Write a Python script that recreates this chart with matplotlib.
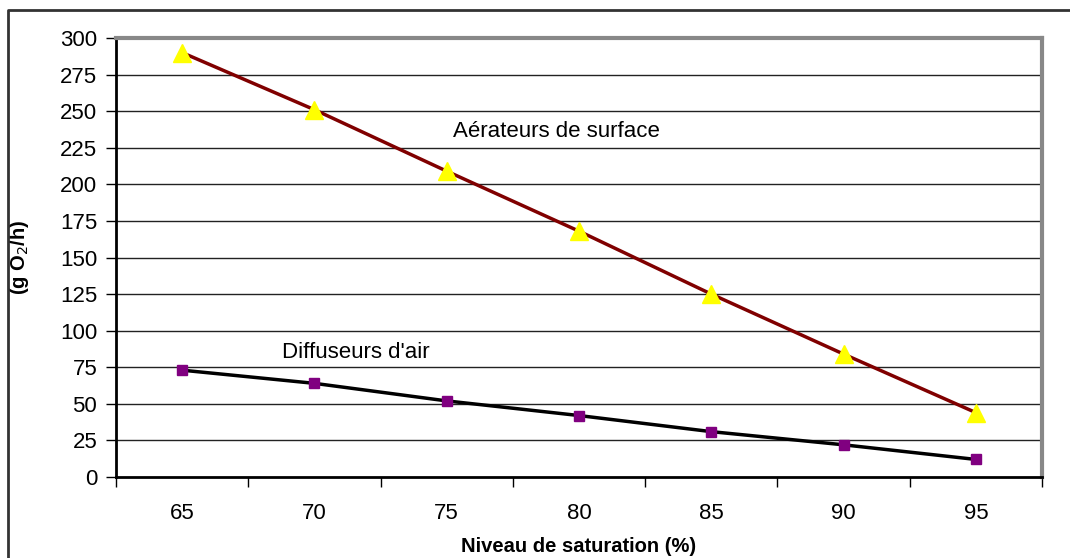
import matplotlib.pyplot as plt
from matplotlib.lines import Line2D

plt.rcParams['font.family'] = ['Liberation Sans', 'DejaVu Sans']

niveaux = [65, 70, 75, 80, 85, 90, 95]
aerateurs = [290, 251, 209, 168, 125, 84, 44]
diffuseurs = [73, 64, 52, 42, 31, 22, 12]
yticks = list(range(0, 301, 25))

fig = plt.figure(figsize=(10.7, 5.58), dpi=100)
ax = fig.add_axes([116 / 1070, 1 - 477 / 558, (1042 - 116) / 1070, (477 - 38) / 558])

x = list(range(len(niveaux)))
ax.plot(x, aerateurs, color='#800000', lw=2.5, zorder=3)
ax.plot(x, aerateurs, ls='none', marker='^', ms=13.5, color='#ffff00', zorder=4)
ax.plot(x, diffuseurs, color='black', lw=2.5, zorder=3)
ax.plot(x, diffuseurs, ls='none', marker='s', ms=7.5, color='#800080', zorder=4)

ax.set_xlim(-0.5, len(niveaux) - 0.5)
ax.set_ylim(0, 300)
ax.set_yticks(yticks)
ax.set_yticklabels([str(v) for v in yticks], fontsize=16)
ax.set_xticks(x)
ax.set_xticklabels([str(v) for v in niveaux], fontsize=16)
ax.tick_params(axis='x', length=0, pad=19)
ax.set_xticks([i - 0.5 for i in range(len(niveaux) + 1)], minor=True)
ax.tick_params(axis='x', which='minor', length=7, direction='out', width=1)
ax.tick_params(axis='y', length=7, direction='out', width=1, pad=6.5)

for v in yticks[1:-1]:
    ax.axhline(v, color='#222222', lw=1, zorder=1)

ax.spines['top'].set_color('#888888')
ax.spines['top'].set_linewidth(3)
ax.spines['right'].set_color('#888888')
ax.spines['right'].set_linewidth(3)
ax.spines['left'].set_linewidth(2)
ax.spines['bottom'].set_linewidth(2)

ax.text(2.83, 236, 'Aérateurs de surface', fontsize=16, ha='center', va='center')
ax.text(1.31, 85, "Diffuseurs d'air", fontsize=16, ha='center', va='center')

ax.set_ylabel('(g O$_2$/h)', fontsize=14.5, fontweight='bold', labelpad=21)
ax.set_xlabel('Niveau de saturation (%)', fontsize=14.5, fontweight='bold', labelpad=9)

# cadre extérieur (haut et gauche visibles)
fig.add_artist(Line2D([8 / 1070, 8 / 1070, 1.0], [0, 1 - 10 / 558, 1 - 10 / 558],
                      transform=fig.transFigure, color='#333333', lw=2))

fig.savefig('out.png', dpi=100)
